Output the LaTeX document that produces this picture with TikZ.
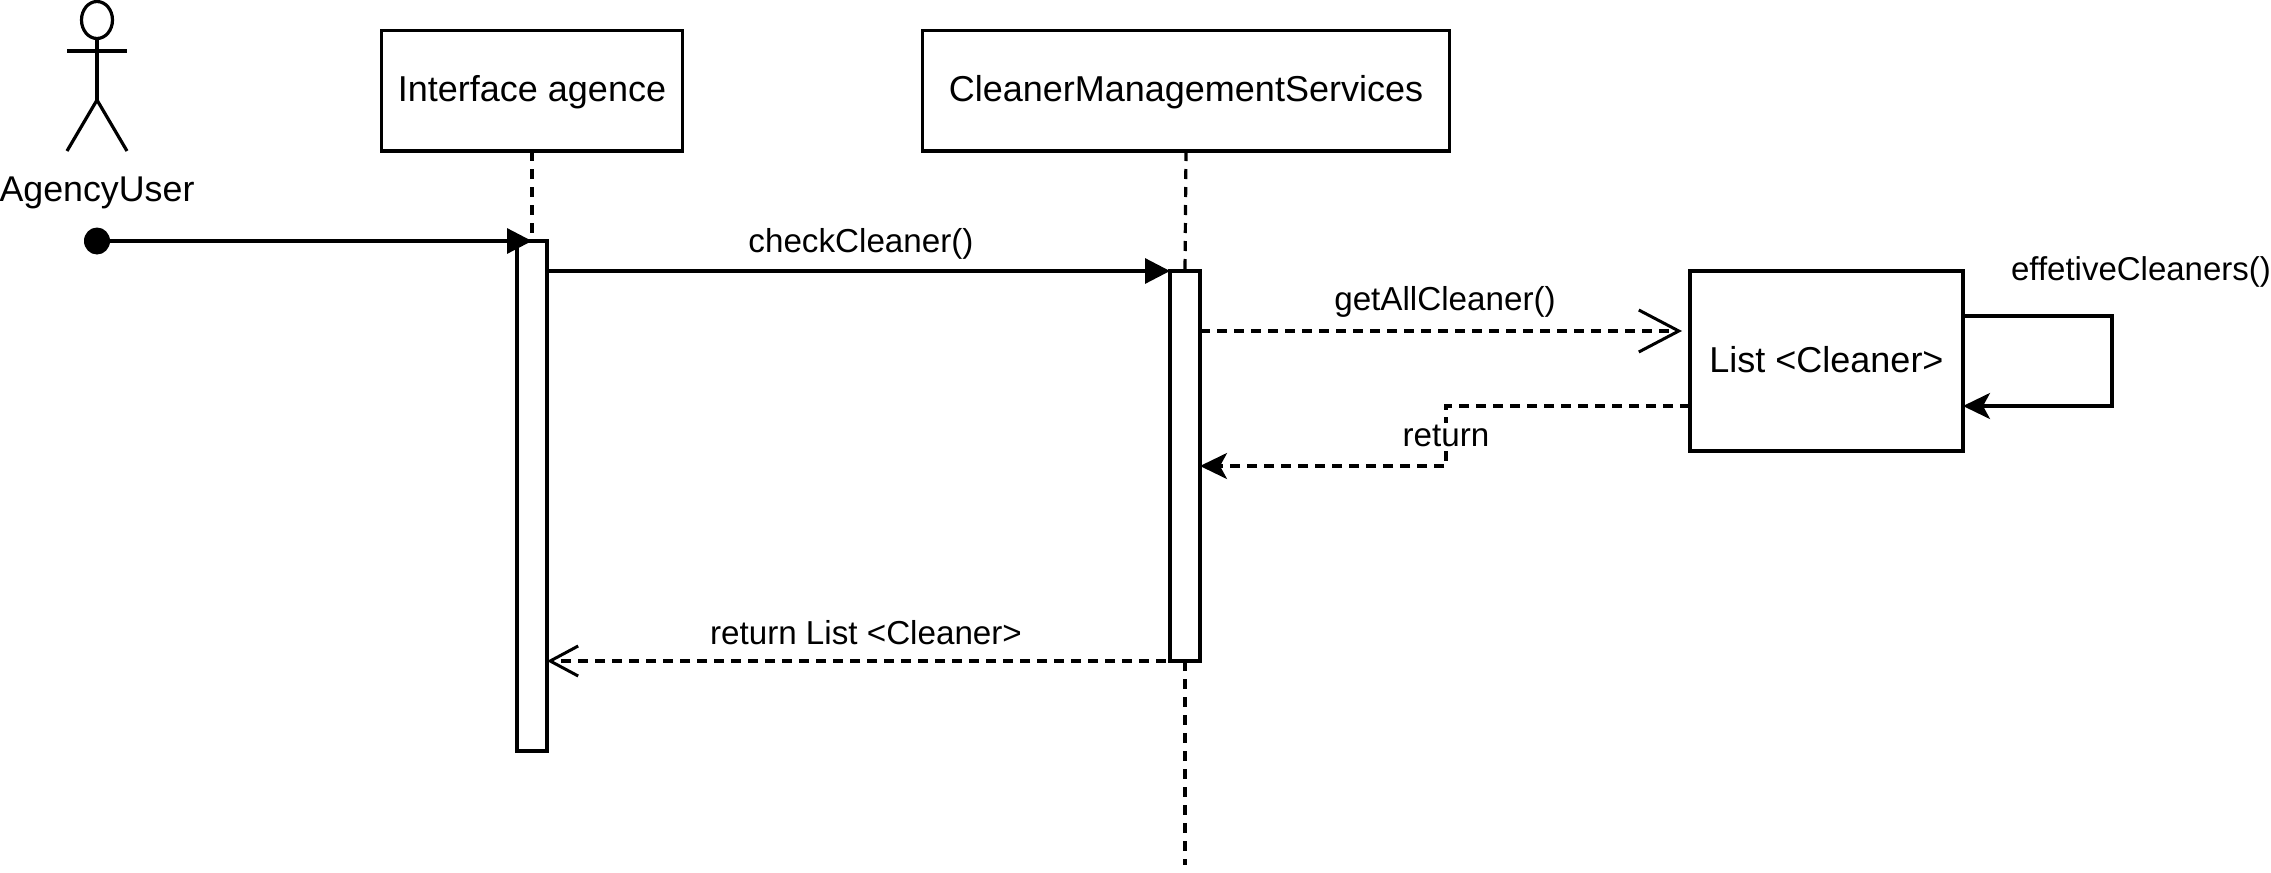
\documentclass[tikz,border=0pt]{standalone}
\usepackage{fontspec}
\setmainfont{Liberation Sans}
\usetikzlibrary{arrows.meta,shapes.geometric}
\tikzset{
  lw/.style={line width=3.2pt},
  boxnode/.style={draw,lw,rectangle,fill=white,inner sep=0pt,outer sep=0pt,align=center,
    font=\fontsize{36pt}{40pt}\selectfont,text height=30pt,text depth=8pt},
  actbar/.style={draw,lw,rectangle,fill=white,inner sep=0pt,outer sep=0pt,minimum width=30pt},
  lbl/.style={anchor=base,inner sep=0pt,font=\fontsize{33.2pt}{36pt}\selectfont},
  lifeline/.style={lw,dash pattern=on 10pt off 8pt},
  dashline/.style={lw,dash pattern=on 10pt off 7pt},
  solidline/.style={lw},
  blocktip/.style={-{Triangle[length=25pt,width=25pt]}},
  classictip/.style={-{Stealth[length=27pt,width=26pt,inset=7pt]}},
  opentip/.style={-{Straight Barb[length=28pt,width=30pt,line width=3pt]}},
  bigopentip/.style={-{Straight Barb[length=40pt,width=42pt,line width=3pt]}}
}
\begin{document}
\begin{tikzpicture}[x=1pt,y=-1pt]
\useasboundingbox (0,0) rectangle (2271,873);
% actor
\node[draw,lw,ellipse,inner sep=0pt,outer sep=0pt,minimum width=31pt,minimum height=37pt] (head) at (97,20) {};
\coordinate (hip) at (97,100);
\coordinate (armL) at (67,51);
\coordinate (armR) at (127,51);
\coordinate (footL) at (67,151);
\coordinate (footR) at (127,151);
\draw[lw] (head.south) -- (hip);
\draw[lw] (armL) -- (armR);
\draw[lw] (footL) -- (hip) -- (footR);
\node[lbl,font=\fontsize{35.8pt}{40pt}\selectfont] (actorlabel) at (97,201.7) {AgencyUser};
% boxes
\node[boxnode,minimum width=301pt,minimum height=120.5pt] (iface) at (532,90.75) {Interface agence};
\node[boxnode,minimum width=527pt,minimum height=120.5pt] (cms) at (1186,90.75) {CleanerManagementServices};
\node[boxnode,minimum width=273pt,minimum height=180pt] (list) at (1826.5,361) {List <Cleaner>};
% activations
\node[actbar,minimum height=510pt] (act1) at (532,496) {};
\node[actbar,minimum height=390pt] (act2) at (1185,466) {};
\coordinate (cmsend) at (1185,865);
% lifelines
\draw[lifeline] (iface.south) -- (act1.north);
\draw[lifeline] (cms.south) -- (act2.north);
\draw[lifeline] (act2.south) -- (cmsend);
% start dot
\node[ellipse,fill=black,inner sep=0pt,outer sep=0pt,minimum width=26pt,minimum height=27pt] (start) at (97,241) {};
% messages
\draw[solidline,blocktip] (start) -- (act1.north);
\coordinate (y271) at (0,271);
\coordinate (y331) at (0,331);
\coordinate (y406) at (0,406);
\coordinate (y466) at (0,466);
\coordinate (y316) at (0,316);
\coordinate (y661) at (0,661);
\draw[solidline,blocktip] (act1.east |- y271) -- (act2.west |- y271);
\coordinate (getend) at (1682,331);
\draw[dashline,bigopentip] (act2.east |- y331) -- (getend);
\coordinate (retknee1) at (1446,406);
\coordinate (retknee2) at (1446,466);
\draw[dashline,classictip] (list.west |- y406) -- (retknee1) -- (retknee2) -- (act2.east |- y466);
\coordinate (loop1) at (2112,316);
\coordinate (loop2) at (2112,406);
\draw[solidline,classictip] (list.east |- y316) -- (loop1) -- (loop2) -- (list.east |- y406);
\draw[dashline,opentip] (act2.east |- y661) -- (act1.east |- y661);
% labels
\node[lbl] (lcheck) at (861,252.5) {checkCleaner()};
\node[lbl] (lget) at (1445,310) {getAllCleaner()};
\node[lbl,font=\fontsize{33pt}{36pt}\selectfont] (leff) at (2141,280) {effetiveCleaners()};
\node[lbl,fill=white,text height=24pt,text depth=1pt] (lret) at (1446,446.5) {return};
\node[lbl] (lretlist) at (866,644) {return List <Cleaner>};
\end{tikzpicture}
\end{document}
